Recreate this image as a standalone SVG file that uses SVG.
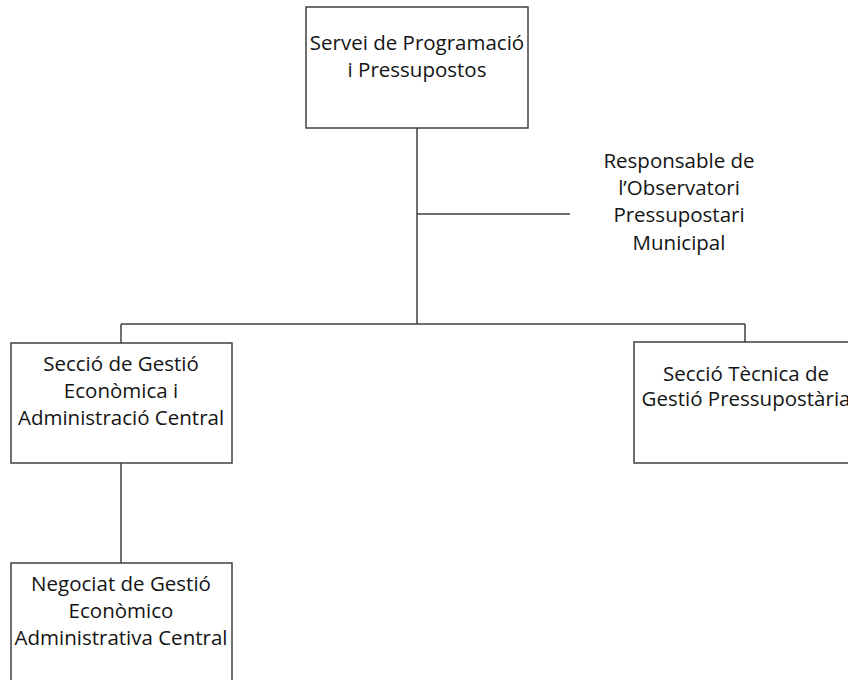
<svg xmlns="http://www.w3.org/2000/svg" width="848" height="680" viewBox="0 0 848 680">
<style>
.box{fill:#fff;stroke:#404040;stroke-width:1.5}
.ln{fill:none;stroke:#404040;stroke-width:1.5}
text{font-family:"Open Sans","Liberation Sans",Arial,sans-serif;font-size:20.5px;fill:#141414;text-anchor:middle;dominant-baseline:central}
</style>
<rect width="848" height="680" fill="#fff"/>
<g id="connectors">
<path class="ln" d="M417 128V324M417 214H570M121 324H745M121 324V343M745 324V342M121 463V563"/>
</g>
<g id="servei">
<rect class="box" x="306" y="7" width="222" height="121"/>
<text x="417" y="42">Servei de Programació</text>
<text x="417" y="69">i Pressupostos</text>
</g>
<g id="responsable">
<text x="679" y="160">Responsable de</text>
<text x="679" y="187">l’Observatori</text>
<text x="679" y="214">Pressupostari</text>
<text x="679" y="242">Municipal</text>
</g>
<g id="seccio-gestio">
<rect class="box" x="11" y="343" width="221" height="120"/>
<text x="121" y="363">Secció de Gestió</text>
<text x="121" y="390">Econòmica i</text>
<text x="121" y="417">Administració Central</text>
</g>
<g id="seccio-tecnica">
<rect class="box" x="634" y="342" width="224" height="121"/>
<text x="746" y="373">Secció Tècnica de</text>
<text x="746" y="398">Gestió Pressupostària</text>
</g>
<g id="negociat">
<rect class="box" x="11" y="563" width="221" height="130"/>
<text x="121" y="583">Negociat de Gestió</text>
<text x="121" y="610">Econòmico</text>
<text x="121" y="637">Administrativa Central</text>
</g>
</svg>
